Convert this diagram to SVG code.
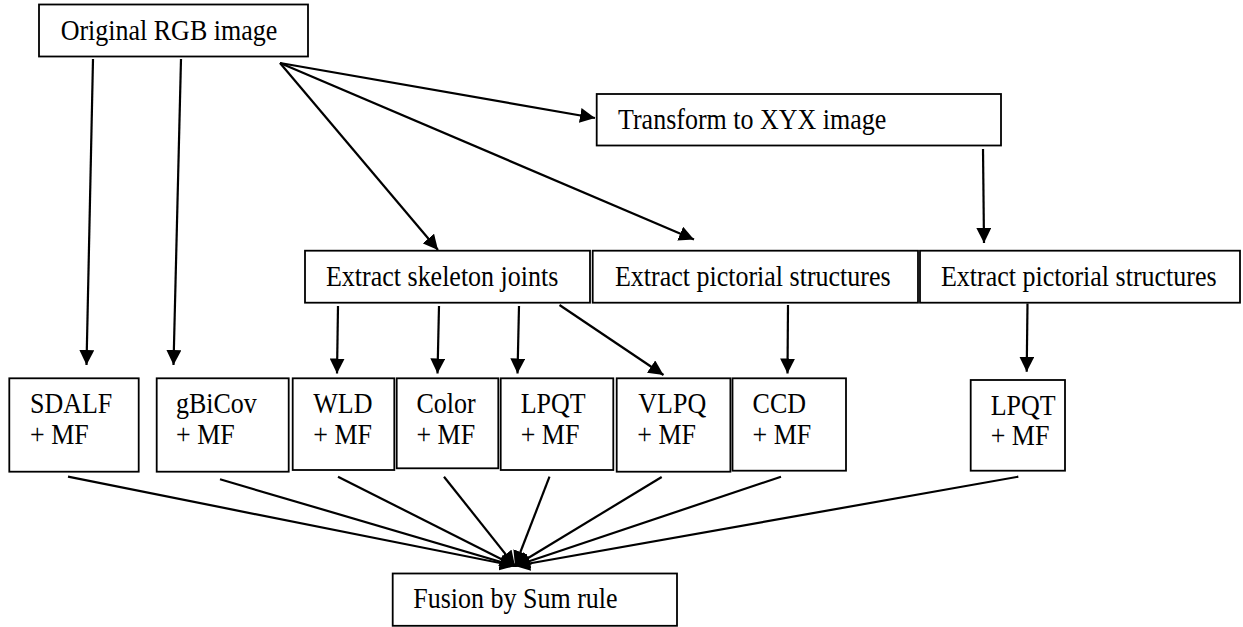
<svg xmlns="http://www.w3.org/2000/svg" width="1243" height="627" viewBox="0 0 1243 627">
<style>
.box{fill:#fff;stroke:#000;stroke-width:1.8}
.t{font-family:"Liberation Serif","Times New Roman","DejaVu Serif",serif;font-size:28.5px;fill:#000}
.a{stroke:#000;stroke-width:2.2;fill:none;marker-end:url(#ah)}
</style>
<defs>
<marker id="ah" viewBox="0 0 15 15" refX="15" refY="7.5" markerWidth="15" markerHeight="15" markerUnits="userSpaceOnUse" orient="auto">
<path d="M0,0 L15,7.5 L0,15 z" fill="#000"/>
</marker>
</defs>
<rect width="1243" height="627" fill="#fff"/>
<g id="connectors">
<line class="a" x1="93" y1="59" x2="86.5" y2="365"/>
<line class="a" x1="181" y1="59" x2="173.5" y2="365"/>
<line class="a" x1="280" y1="63" x2="595" y2="118"/>
<line class="a" x1="280" y1="63" x2="438" y2="250"/>
<line class="a" x1="280" y1="63" x2="694" y2="239.5"/>
<line class="a" x1="983" y1="149" x2="984" y2="243"/>
<line class="a" x1="338" y1="306" x2="337" y2="373.5"/>
<line class="a" x1="439" y1="306" x2="437.5" y2="373.5"/>
<line class="a" x1="519" y1="306" x2="517.5" y2="373.5"/>
<line class="a" x1="559.5" y1="305" x2="663.5" y2="375"/>
<line class="a" x1="788" y1="305" x2="787.5" y2="373.5"/>
<line class="a" x1="1027.5" y1="303.5" x2="1026.7" y2="371.7"/>
<line class="a" x1="68" y1="476.7" x2="515" y2="566"/>
<line class="a" x1="220" y1="479.3" x2="515" y2="566"/>
<line class="a" x1="338" y1="476.7" x2="515" y2="566"/>
<line class="a" x1="444" y1="476.7" x2="515" y2="566"/>
<line class="a" x1="549.5" y1="476.7" x2="515" y2="566"/>
<line class="a" x1="661.7" y1="477" x2="515" y2="566"/>
<line class="a" x1="781" y1="476.7" x2="515" y2="566"/>
<line class="a" x1="1018.3" y1="476.7" x2="515" y2="566"/>
</g>
<g id="original"><rect class="box" x="39" y="4.5" width="269" height="52"/><text class="t" transform="translate(60.7,40) scale(0.912,1)">Original RGB image</text></g>
<g id="transform"><rect class="box" x="596.7" y="94" width="404.3" height="51.5"/><text class="t" transform="translate(618,128.5) scale(0.912,1)">Transform to XYX image</text></g>
<g id="skeleton"><rect class="box" x="305" y="250.7" width="285" height="52"/><text class="t" transform="translate(326,285.7) scale(0.912,1)">Extract skeleton joints</text></g>
<g id="pictorial1"><rect class="box" x="592.7" y="250.7" width="325.3" height="52"/><text class="t" transform="translate(615,285.7) scale(0.912,1)">Extract pictorial structures</text></g>
<g id="pictorial2"><rect class="box" x="920" y="250.7" width="320" height="52"/><text class="t" transform="translate(941,285.7) scale(0.912,1)">Extract pictorial structures</text></g>
<g id="sdalf"><rect class="box" x="9.3" y="378.3" width="129.4" height="93.4"/><text class="t" transform="translate(30,413.3) scale(0.912,1)">SDALF</text><text class="t" transform="translate(30,443.5) scale(0.912,1)">+ MF</text></g>
<g id="gbicov"><rect class="box" x="156.7" y="378.3" width="132" height="93.4"/><text class="t" transform="translate(176,413.3) scale(0.912,1)">gBiCov</text><text class="t" transform="translate(176,443.5) scale(0.912,1)">+ MF</text></g>
<g id="wld"><rect class="box" x="292.7" y="378.3" width="101.6" height="91.7"/><text class="t" transform="translate(313.3,413.3) scale(0.912,1)">WLD</text><text class="t" transform="translate(313.3,443.5) scale(0.912,1)">+ MF</text></g>
<g id="color"><rect class="box" x="396.7" y="378.3" width="101.6" height="90"/><text class="t" transform="translate(416.4,413.3) scale(0.912,1)">Color</text><text class="t" transform="translate(416.4,443.5) scale(0.912,1)">+ MF</text></g>
<g id="lpqt1"><rect class="box" x="500.7" y="378.3" width="112.6" height="91.7"/><text class="t" transform="translate(520.7,413.3) scale(0.912,1)">LPQT</text><text class="t" transform="translate(520.7,443.5) scale(0.912,1)">+ MF</text></g>
<g id="vlpq"><rect class="box" x="616.7" y="378.3" width="113.7" height="93.4"/><text class="t" transform="translate(638.3,413.3) scale(0.912,1)">VLPQ</text><text class="t" transform="translate(637.3,443.5) scale(0.912,1)">+ MF</text></g>
<g id="ccd"><rect class="box" x="732.5" y="378.3" width="113.5" height="92.4"/><text class="t" transform="translate(752.6,413.3) scale(0.912,1)">CCD</text><text class="t" transform="translate(752.6,443.5) scale(0.912,1)">+ MF</text></g>
<g id="lpqt2"><rect class="box" x="970.7" y="380" width="94.3" height="90.7"/><text class="t" transform="translate(990.7,414.5) scale(0.912,1)">LPQT</text><text class="t" transform="translate(990.7,444.5) scale(0.912,1)">+ MF</text></g>
<g id="fusion"><rect class="box" x="392.7" y="573.5" width="284.3" height="52.3"/><text class="t" transform="translate(413.3,608) scale(0.912,1)">Fusion by Sum rule</text></g>
</svg>
